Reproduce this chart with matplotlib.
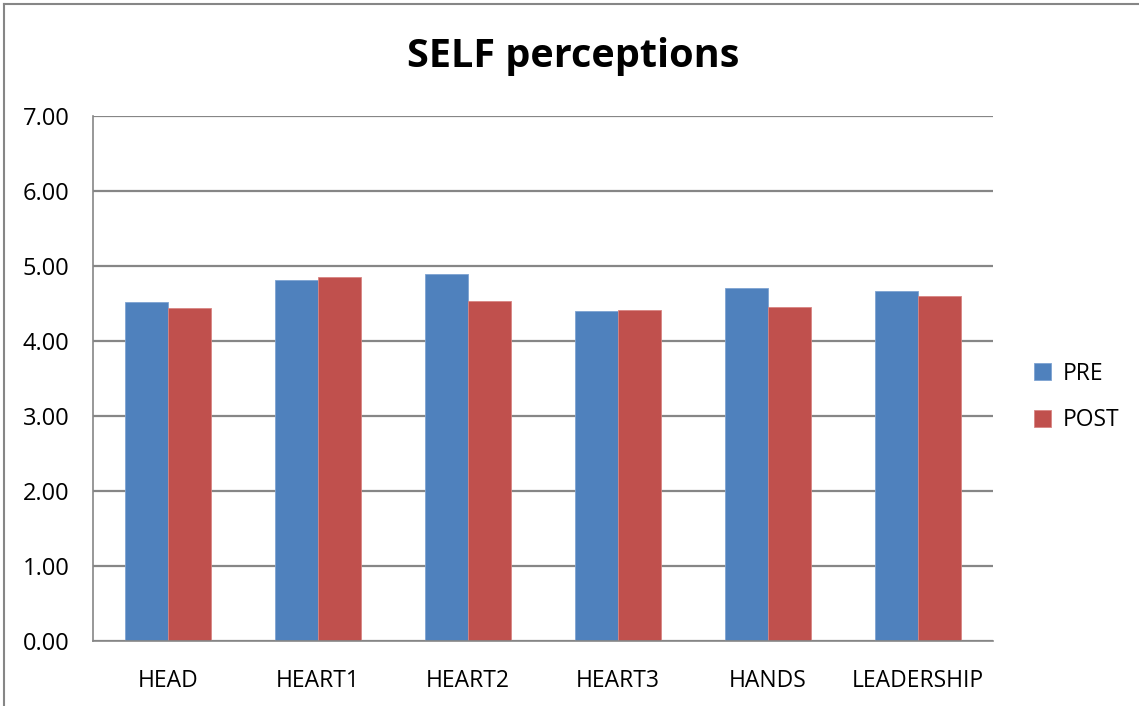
import numpy as np
import matplotlib.pyplot as plt
from matplotlib.lines import Line2D

categories = ["HEAD", "HEART1", "HEART2", "HEART3", "HANDS", "LEADERSHIP"]
pre = [4.52, 4.82, 4.89, 4.40, 4.71, 4.67]
post = [4.44, 4.85, 4.54, 4.41, 4.45, 4.60]
yticks = [0, 1, 2, 3, 4, 5, 6, 7]

plt.rcParams['font.family'] = ['Open Sans', 'DejaVu Sans']

fig = plt.figure(figsize=(11.39, 7.06), dpi=100)
ax = fig.add_axes([93 / 1139, 65 / 706, 900 / 1139, 525 / 706])

x = np.arange(len(categories))
w = 0.284
ax.bar(x - w / 2, pre, w, color='#4f81bd', label='PRE', edgecolor='#7ea3d2', linewidth=0.6)
ax.bar(x + w / 2, post, w, color='#c0504d', label='POST', edgecolor='#d88583', linewidth=0.6)

ax.set_xlim(-0.5, len(categories) - 0.5)
ax.set_ylim(0, 7)
ax.set_yticks(yticks)
ax.set_yticklabels([f"{v:.2f}" for v in yticks], fontsize=17)
ax.set_xticks(x)
ax.set_xticklabels(categories, fontsize=16.5)
ax.tick_params(axis='y', length=0, pad=17)
ax.tick_params(axis='x', length=0, pad=20)
ax.yaxis.grid(True, color='#868686', linewidth=1.6)
ax.set_axisbelow(True)
for s in ['top', 'right']:
    ax.spines[s].set_visible(False)
for s in ['left', 'bottom']:
    ax.spines[s].set_color('#868686')
    ax.spines[s].set_linewidth(1.2)

fig.text(0.503, 1 - 57 / 706, "SELF perceptions", ha='center', va='center',
         fontsize=28.5, fontweight='bold')

fig.legend(loc='center left', bbox_to_anchor=(1013 / 1139, 1 - 397 / 706), frameon=False,
           fontsize=16.5, handlelength=0.75, handleheight=0.75, labelspacing=1.0,
           handletextpad=0.5)

# outer chart border
fig.add_artist(Line2D([4 / 1139, 4 / 1139], [0, 1 - 4 / 706], color='#868686', lw=1.5))
fig.add_artist(Line2D([4 / 1139, 1], [1 - 4 / 706, 1 - 4 / 706], color='#868686', lw=1.5))

fig.savefig("out.png", dpi=100)
